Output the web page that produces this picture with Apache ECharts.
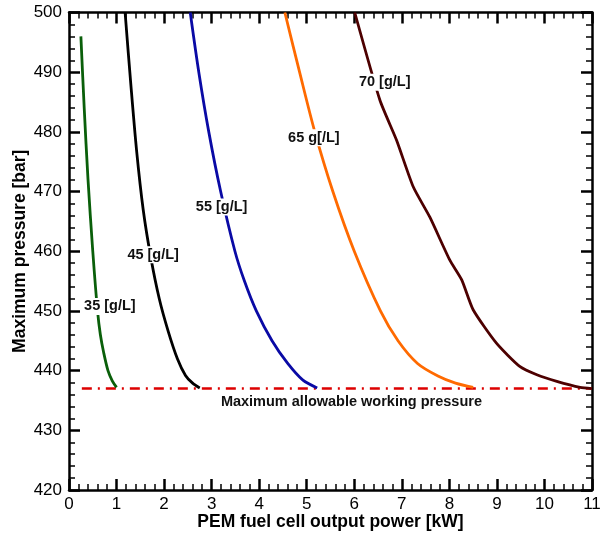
<!DOCTYPE html>
<html>
<head>
<meta charset="utf-8">
<script src="https://cdn.jsdelivr.net/npm/echarts@6/dist/echarts.min.js"></script>
<style>
html,body{margin:0;padding:0;background:#fff;}
#chart{width:601px;height:533px;}
</style>
</head>
<body>
<div id="chart"></div>
<script>
// ---- Data ----
const xTicks = [0,1,2,3,4,5,6,7,8,9,10,11];
const yTicks = [420,430,440,450,460,470,480,490,500];

const x35 = [0.25,0.32,0.40,0.50,0.60,0.66,0.73,0.82,0.91,1.0];
const y35 = [496,484,472,460,450,446,443,440,438.3,437.2];

const x45 = [1.18,1.30,1.42,1.56,1.72,1.90,2.09,2.28,2.45,2.60,2.75];
const y45 = [500,488,477,467,459,452,446.5,442,439.2,437.9,437.1];

const x55 = [2.55,2.73,2.94,3.19,3.49,3.69,3.94,4.27,4.60,4.92,5.22];
const y55 = [500,490,480,470,460,455,450,445,441.2,438.4,437.1];

const x65 = [4.54,4.85,5.17,5.55,6.00,6.55,6.92,7.33,7.76,8.13,8.50];
const y65 = [500,490,480,470,460,450,445,441.2,439.1,437.9,437.2];

const x70 = [6.01,6.54,6.89,7.24,7.59,8.01,8.26,8.50,8.99,9.48,9.84,10.26,10.75,11.0];
const y70 = [500,485.3,478.6,470.8,465.7,458.5,455.2,450.2,444.6,440.7,439.3,438.2,437.2,437.0];

const xLimit = [0.27,11];
const yLimit = [437,437];

const labelText = ['35 [g/L]','45 [g/L]','55 [g/L]','65 g[/L]','70 [g/L]','Maximum allowable working pressure'];
const labelX = [0.86,1.77,3.21,5.15,6.64,5.94];
const labelY = [450.75,459.4,467.4,479.0,488.3,434.8];

// ---- build ----
const zip = (xs, ys) => xs.map((x, i) => [x, ys[i]]);
const FONT = '"Liberation Sans", Arial, sans-serif';

const baseX = {
  type: 'value', min: 0, max: 11, interval: 1,
  axisLine: {show: true, onZero: false, lineStyle: {color: '#000', width: 2.5}},
  axisTick: {show: true, inside: true, length: 11, lineStyle: {color: '#000', width: 2.5}},
  minorTick: {show: true, splitNumber: 5, length: 6, lineStyle: {color: '#000', width: 1.5}},
  splitLine: {show: false},
  minorSplitLine: {show: false}
};
const baseY = {
  type: 'value', min: 420, max: 500, interval: 10,
  axisLine: {show: true, onZero: false, lineStyle: {color: '#000', width: 2.5}},
  axisTick: {show: true, inside: true, length: 11, lineStyle: {color: '#000', width: 2.5}},
  minorTick: {show: true, splitNumber: 5, length: 6, lineStyle: {color: '#000', width: 1.5}},
  splitLine: {show: false},
  minorSplitLine: {show: false}
};

function curve(name, xs, ys, color, smooth) {
  return {
    name, type: 'line', data: zip(xs, ys), smooth: smooth, showSymbol: false, symbol: 'none',
    lineStyle: {color, width: 2.8}, z: 3, animation: false
  };
}

const option = {
  backgroundColor: '#fff',
  animation: false,
  grid: {left: 69, right: 9, top: 12.5, bottom: 43, containLabel: false, outerBoundsMode: 'none'},
  xAxis: [
    Object.assign({}, baseX, {
      position: 'bottom',
      name: 'PEM fuel cell output power [kW]', nameLocation: 'middle', nameGap: 23,
      nameMoveOverlap: false,
      nameTextStyle: {fontFamily: FONT, fontSize: 17.5, fontWeight: 'bold', color: '#000'},
      axisLabel: {show: true, margin: 6, fontFamily: FONT, fontSize: 17, color: '#000',
        formatter: v => xTicks.includes(v) ? String(v) : ''}
    }),
    Object.assign({}, baseX, {position: 'top', axisLabel: {show: false}})
  ],
  yAxis: [
    Object.assign({}, baseY, {
      position: 'left',
      name: 'Maximum pressure [bar]', nameLocation: 'middle', nameGap: 40, nameRotate: 90,
      nameMoveOverlap: false,
      nameTextStyle: {fontFamily: FONT, fontSize: 17.5, fontWeight: 'bold', color: '#000'},
      axisLabel: {show: true, margin: 7, fontFamily: FONT, fontSize: 17, color: '#000',
        formatter: v => yTicks.includes(v) ? String(v) : ''}
    }),
    Object.assign({}, baseY, {position: 'right', axisLabel: {show: false}})
  ],
  series: [
    {
      name: 'limit', type: 'line', data: zip(xLimit, yLimit), showSymbol: false, symbol: 'none',
      lineStyle: {color: '#dd0000', width: 2.5, type: [10, 6, 2, 6]}, z: 2
    },
    curve('35', x35, y35, '#0a5f0a', 0.3),
    curve('45', x45, y45, '#000000', 0.3),
    curve('55', x55, y55, '#0a0aa5', 0.3),
    curve('65', x65, y65, '#ff6a00', 0.3),
    curve('70', x70, y70, '#4d0000', 0.2),
    {
      name: 'labels', type: 'scatter', symbolSize: 0, z: 5,
      itemStyle: {opacity: 1},
      data: labelText.map((t, i) => ({value: [labelX[i], labelY[i]], name: t})),
      label: {
        show: true, position: 'inside', formatter: p => p.name, opacity: 1,
        fontFamily: FONT, fontSize: 14.5, fontWeight: 'bold', color: '#111',
        backgroundColor: '#fff', padding: [1, 1]
      },
      emphasis: {disabled: true}
    }
  ]
};

const chart = echarts.init(document.getElementById('chart'), null, {renderer: 'canvas'});
chart.setOption(option);
</script>
</body>
</html>
